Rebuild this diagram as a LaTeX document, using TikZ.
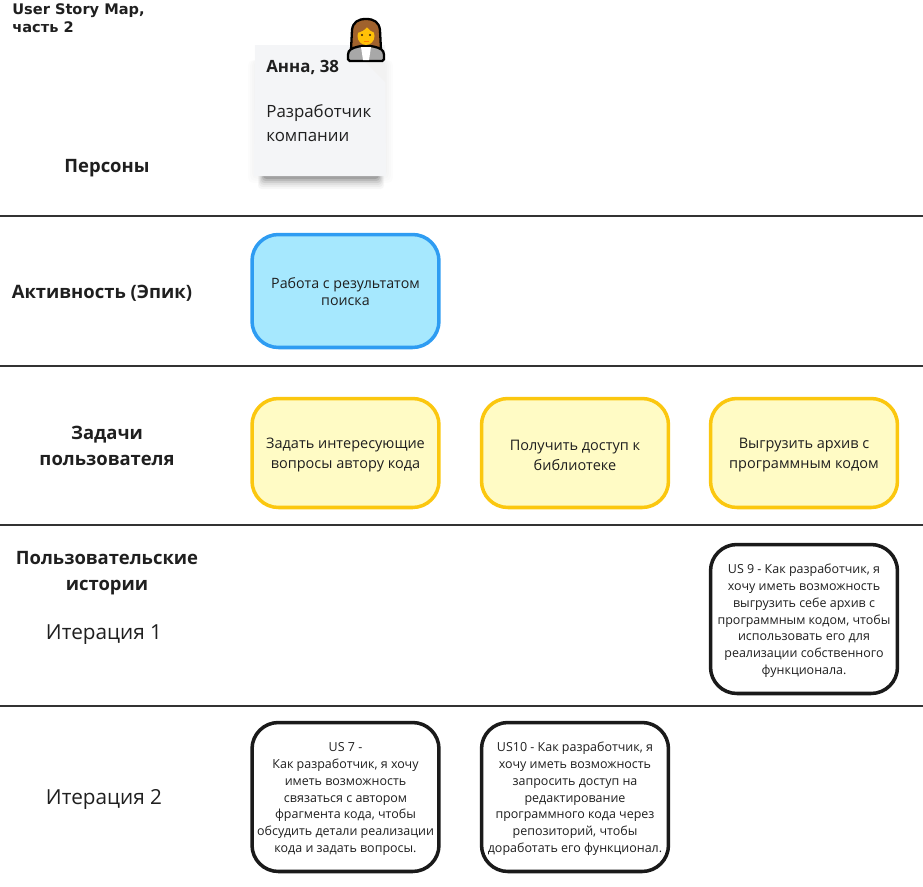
\documentclass[tikz,border=0pt]{standalone}
\usepackage{fontspec}
\setmainfont{Open Sans}
\newfontfamily\titlefont{DejaVu Sans}
\usetikzlibrary{math, calc}

\definecolor{rowline}{HTML}{333333}
\definecolor{notefill}{HTML}{F4F5F7}
\definecolor{epicfill}{HTML}{A6E8FE}
\definecolor{epicedge}{HTML}{2E9CF2}
\definecolor{taskfill}{HTML}{FFFBC5}
\definecolor{taskedge}{HTML}{FBC70F}
\definecolor{storyedge}{HTML}{1A1A1A}
\definecolor{inktext}{HTML}{1F1F1F}
\definecolor{hairbrown}{HTML}{A0622D}
\definecolor{skinyellow}{HTML}{FFC107}
\definecolor{suitgrey}{HTML}{A8A8A8}

\tikzset{
    rowlabel/.style={font=\fontsize{10.5}{14.4}\selectfont\bfseries, text=inktext, align=center},
    iterlabel/.style={font=\fontsize{11.8}{14}\selectfont, text=inktext},
    roundbox/.style={rounded corners=15pt, line width=2pt, align=center, inner sep=0pt,
        minimum width=3.74cm, text=inktext},
    epicbox/.style={roundbox, draw=epicedge, fill=epicfill, minimum height=2.26cm,
        font=\fontsize{8.1}{9.8}\selectfont},
    taskbox/.style={roundbox, draw=taskedge, fill=taskfill, minimum height=2.18cm,
        font=\fontsize{8.25}{11.2}\selectfont},
    storybox/.style={roundbox, draw=storyedge, fill=white, minimum height=2.98cm,
        font=\fontsize{7.1}{9.55}\selectfont},
    notetext/.style={font=\fontsize{9.6}{13.6}\selectfont, text=inktext, anchor=west, inner sep=0pt},
}

\begin{document}
\begin{tikzpicture}[x=0.02cm, y=-0.02cm]
    \useasboundingbox (0, 0) rectangle (923, 886);

    % row separators
    \foreach \rowy in {216, 366, 525, 706} {
        \draw [rowline, line width=1.6pt] (0, \rowy) -- (923, \rowy);
    }

    % title
    \node [font=\titlefont\fontsize{8.3}{10.2}\selectfont\bfseries, text=inktext, align=left, anchor=north west, inner sep=0pt]
        (title) at (12, 3) {User Story Map,\\часть 2};

    % row labels
    \node [rowlabel] (persons) at (107, 168) {Персоны};
    \node [rowlabel] (epics) at (102, 293) {Активность (Эпик)};
    \node [rowlabel] (tasks) at (107, 446) {Задачи\\пользователя};
    \node [rowlabel] (stories) at (107, 573) {Пользовательские\\истории};
    \node [iterlabel] (iter1) at (104, 635) {Итерация 1};
    \node [iterlabel] (iter2) at (104, 799) {Итерация 2};

    % note shadow
    \foreach \grow/\dark in {24/0.03, 20/0.04, 16/0.05, 12/0.07, 8/0.09, 4/0.12} {
        \fill [black, opacity=\dark, rounded corners=2pt] (264-\grow/4, 172) rectangle (378+\grow/4, 177+\grow/2);
    }
    \foreach \grow in {1, 3, 5, 7} {
        \fill [black, opacity=0.012, rounded corners=3pt] (255-\grow, 60) rectangle (386+\grow, 176+\grow);
    }

    % note
    \fill [notefill] (255, 45) -- (385, 45) -- (386, 176) -- (254, 176) -- cycle;
    \fill [black!5] (386, 83) -- (363, 60) -- (385, 60) -- cycle;
    \node [notetext, font=\fontsize{9.6}{13.6}\selectfont\bfseries] (name) at (266, 67) {Анна, 38};
    \node [notetext] (role) at (266, 113) {Разработчик};
    \node [notetext] (company) at (266, 137) {компании};

    % woman at work
    \draw [black, line width=1.3pt, fill=hairbrown]
        (351, 50) -- (352, 30) .. controls (353, 22) and (358, 19) .. (366, 19)
        .. controls (374, 19) and (379, 22) .. (380, 30) -- (381, 50) -- cycle;
    \draw [black, line width=1.3pt, fill=suitgrey, rounded corners=1pt]
        (348, 61) -- (348, 53) .. controls (350, 49) and (356, 46) .. (366, 46)
        .. controls (376, 46) and (382, 49) .. (384, 53) -- (384, 61) -- cycle;
    \fill [white] (361, 47) -- (371, 47) -- (369, 60) -- (363, 60) -- cycle;
    \fill [skinyellow] (366, 36) ellipse (8.5 and 9);
    \fill [hairbrown] (357, 33) .. controls (361, 32) and (365, 30) .. (367, 27)
        .. controls (369, 30) and (372, 32) .. (375, 33) -- (375, 25) -- (357, 25) -- cycle;
    \fill [black!70!hairbrown] (362, 35) circle (1.2) (370, 35) circle (1.2);
    \fill [orange] (363.5, 41) rectangle (368.5, 42);

    % epic
    \node [epicbox] (epicA) at (345.5, 291) {\rule{0pt}{7pt}Работа с результатом\\поиска};

    % user tasks
    \node [taskbox] (taskA) at (345.5, 453) {\rule{0pt}{8.3pt}Задать интересующие\\вопросы автору кода};
    \node [taskbox] (taskB) at (575, 453) {\rule{0pt}{8.3pt}Получить доступ к\\библиотеке};
    \node [taskbox] (taskC) at (804, 453) {\rule{0pt}{8.3pt}Выгрузить архив с\\программным кодом};

    % user stories
    \node [storybox] (us9) at (804, 619) {\rule{0pt}{7.5pt}US 9 - Как разработчик, я\\хочу иметь возможность\\выгрузить себе архив с\\программным кодом, чтобы\\использовать его для\\реализации собственного\\функционала.};
    \node [storybox] (us7) at (345.5, 797) {\rule{0pt}{7.5pt}US 7 -\\Как разработчик, я хочу\\иметь возможность\\связаться с автором\\фрагмента кода, чтобы\\обсудить детали реализации\\кода и задать вопросы.};
    \node [storybox] (us10) at (575, 797) {\rule{0pt}{7.5pt}US10 - Как разработчик, я\\хочу иметь возможность\\запросить доступ на\\редактирование\\программного кода через\\репозиторий, чтобы\\доработать его функционал.};
\end{tikzpicture}
\end{document}
